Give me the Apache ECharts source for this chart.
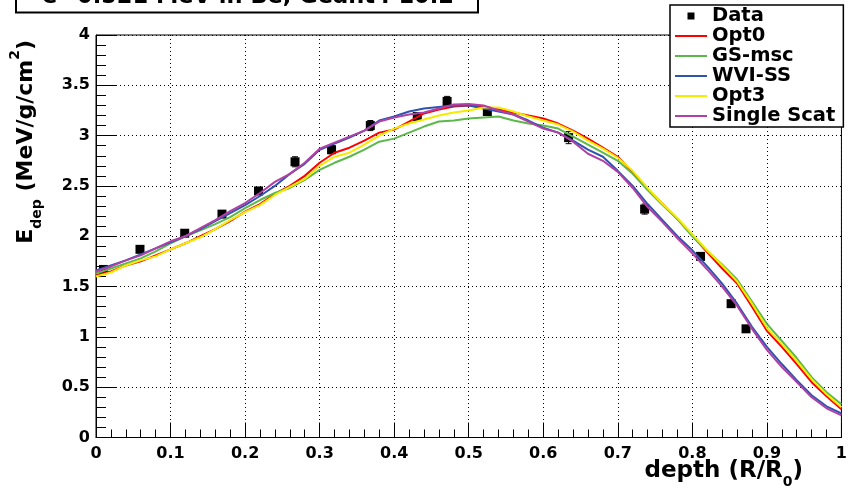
<!DOCTYPE html>
<html>
<head>
<meta charset="utf-8">
<script src="https://cdn.jsdelivr.net/npm/echarts@6.0.0/dist/echarts.min.js"></script>
<style>
  html, body { margin: 0; padding: 0; background: #fff; }
  #chart { width: 850px; height: 492px; }
</style>
</head>
<body>
<div id="chart"></div>
<script>
// ---------- data ----------
const titleText = 'e\u207B 0.521 MeV in Be, Geant4 10.2';
const xTickLabels = ['0', '0.1', '0.2', '0.3', '0.4', '0.5', '0.6', '0.7', '0.8', '0.9', '1'];
const yTickLabels = ['0', '0.5', '1', '1.5', '2', '2.5', '3', '3.5', '4'];

// measured data points
const dataX   = [0.010, 0.059, 0.119, 0.169, 0.218, 0.267, 0.316, 0.368, 0.431, 0.471, 0.525, 0.634, 0.736, 0.811, 0.852, 0.872];
const dataY   = [1.67, 1.87, 2.03, 2.22, 2.45, 2.74, 2.86, 3.10, 3.19, 3.34, 3.24, 2.98, 2.27, 1.80, 1.33, 1.08];
const dataErr = [0.03, 0.03, 0.03, 0.03, 0.03, 0.05, 0.04, 0.05, 0.03, 0.05, 0.04, 0.06, 0.05, 0.03, 0.02, 0.02];

// simulation curves, sampled at depth = 0, 0.02, ..., 1.00
const depth = [0.00,0.02,0.04,0.06,0.08,0.10,0.12,0.14,0.16,0.18,0.20,0.22,0.24,0.26,0.28,0.30,0.32,0.34,0.36,0.38,0.40,
               0.42,0.44,0.46,0.48,0.50,0.52,0.54,0.56,0.58,0.60,0.62,0.64,0.66,0.68,0.70,0.72,0.74,0.76,0.78,0.80,
               0.82,0.84,0.86,0.88,0.90,0.92,0.94,0.96,0.98,1.00];
const opt0 = [1.61,1.65,1.71,1.75,1.81,1.87,1.93,2.00,2.07,2.15,2.245,2.32,2.42,2.50,2.60,2.73,2.83,2.88,2.95,3.03,3.06,
              3.14,3.22,3.26,3.29,3.30,3.29,3.26,3.23,3.20,3.17,3.12,3.05,2.97,2.88,2.79,2.64,2.47,2.32,2.17,2.01,
              1.84,1.68,1.53,1.30,1.06,0.90,0.73,0.55,0.41,0.28];
const gsMsc = [1.63,1.68,1.73,1.78,1.85,1.93,2.00,2.06,2.12,2.19,2.28,2.36,2.43,2.48,2.56,2.66,2.73,2.79,2.86,2.94,2.97,
               3.03,3.09,3.14,3.15,3.17,3.18,3.19,3.15,3.12,3.10,3.07,2.99,2.91,2.83,2.75,2.62,2.46,2.31,2.17,2.00,
               1.85,1.72,1.57,1.35,1.13,0.96,0.79,0.60,0.45,0.33];
const wviSS = [1.66,1.71,1.76,1.82,1.88,1.94,2.00,2.07,2.15,2.23,2.31,2.40,2.50,2.62,2.72,2.86,2.92,2.98,3.05,3.15,3.19,
               3.24,3.27,3.285,3.30,3.30,3.27,3.24,3.21,3.15,3.08,3.03,2.95,2.86,2.79,2.65,2.50,2.32,2.16,2.00,1.86,
               1.70,1.53,1.33,1.10,0.90,0.73,0.57,0.42,0.31,0.24];
const opt3 = [1.60,1.64,1.71,1.76,1.80,1.87,1.93,1.99,2.07,2.16,2.24,2.31,2.41,2.49,2.57,2.70,2.79,2.83,2.91,3.00,3.07,
              3.12,3.16,3.20,3.23,3.25,3.28,3.28,3.24,3.19,3.15,3.11,3.04,2.95,2.87,2.78,2.65,2.48,2.32,2.18,2.02,
              1.86,1.71,1.55,1.33,1.09,0.93,0.76,0.58,0.43,0.30];
const singleScat = [1.65,1.70,1.76,1.81,1.88,1.95,2.00,2.08,2.16,2.25,2.33,2.43,2.54,2.62,2.73,2.87,2.93,2.99,3.05,3.14,3.18,
                    3.21,3.23,3.27,3.31,3.315,3.30,3.25,3.21,3.14,3.07,3.03,2.94,2.82,2.75,2.64,2.48,2.29,2.14,1.98,1.83,
                    1.67,1.50,1.31,1.08,0.87,0.70,0.55,0.40,0.29,0.22];

const seriesNames  = ['Opt0', 'GS-msc', 'WVI-SS', 'Opt3', 'Single Scat'];
const seriesValues = [opt0, gsMsc, wviSS, opt3, singleScat];
const seriesColors = ['#ff0000', '#5cb84a', '#2f54b0', '#f4ec00', '#b040a6'];

// ---------- chart ----------
const FONT = "'DejaVu Sans', 'Liberation Sans', sans-serif";
const chart = echarts.init(document.getElementById('chart'), null, { renderer: 'canvas' });

const pairs = (xs, ys) => xs.map((x, i) => [x, ys[i]]);

const lineSeries = seriesNames.map((name, k) => ({
  name: name,
  type: 'line',
  data: pairs(depth, seriesValues[k]),
  symbol: 'none',
  showSymbol: false,
  smooth: false,
  lineStyle: { color: seriesColors[k], width: 2 },
  itemStyle: { color: seriesColors[k] },
  z: 3 + k,
  animation: false
}));

const option = {
  animation: false,
  backgroundColor: '#fff',
  grid: { left: 96, right: 5, top: 35, bottom: 54.5, show: true, borderColor: '#000', borderWidth: 1, backgroundColor: 'transparent' },
  xAxis: {
    type: 'value', min: 0, max: 1, interval: 0.1,
    axisLine: { show: true, onZero: false, lineStyle: { color: '#000', width: 1 } },
    axisTick: { show: true, inside: true, length: 15, lineStyle: { color: '#000', width: 1 } },
    minorTick: { show: true, splitNumber: 5, length: 8, lineStyle: { color: '#000', width: 1 } },
    splitLine: { show: true, lineStyle: { color: '#000', width: 1, type: [1, 3] } },
    axisLabel: {
      color: '#000', fontFamily: FONT, fontWeight: 'bold', fontSize: 16, margin: 8,
      formatter: (v) => xTickLabels[Math.round(v * 10)]
    }
  },
  yAxis: {
    type: 'value', min: 0, max: 4, interval: 0.5,
    axisLine: { show: true, onZero: false, lineStyle: { color: '#000', width: 1 } },
    axisTick: { show: true, inside: true, length: 20, lineStyle: { color: '#000', width: 1 } },
    minorTick: { show: true, splitNumber: 5, length: 10, lineStyle: { color: '#000', width: 1 } },
    splitLine: { show: true, lineStyle: { color: '#000', width: 1, type: [1, 3] } },
    axisLabel: {
      color: '#000', fontFamily: FONT, fontWeight: 'bold', fontSize: 16, margin: 6,
      formatter: (v) => yTickLabels[Math.round(v * 2)]
    }
  },
  legend: {
    orient: 'vertical',
    left: 670, top: 5,
    padding: [1, 8, 1, 5],
    itemGap: 0,
    itemWidth: 32, itemHeight: 7,
    backgroundColor: '#fff',
    borderColor: '#000', borderWidth: 1.5,
    textStyle: { color: '#000', fontFamily: FONT, fontWeight: 'bold', fontSize: 19.5, lineHeight: 18.3 },
    data: [
      { name: 'Data', icon: 'path://M0,0h1v1h-1z' },
      ...seriesNames.map(n => ({ name: n, icon: 'path://M0,0h16v1h-16z' }))
    ],
    selectedMode: false,
    z: 20
  },
  series: [
    {
      name: 'Data',
      type: 'custom',
      coordinateSystem: 'cartesian2d',
      data: dataX.map((x, i) => [x, dataY[i], dataErr[i]]),
      itemStyle: { color: '#000' },
      renderItem: function (params, api) {
        const x = api.value(0), y = api.value(1), e = api.value(2);
        const p = api.coord([x, y]);
        const hi = api.coord([x, y + e]);
        const lo = api.coord([x, y - e]);
        return {
          type: 'group',
          children: [
            { type: 'line', shape: { x1: p[0], y1: hi[1], x2: p[0], y2: lo[1] }, style: { stroke: '#000', lineWidth: 1 } },
            { type: 'line', shape: { x1: p[0] - 3, y1: hi[1], x2: p[0] + 3, y2: hi[1] }, style: { stroke: '#000', lineWidth: 1 } },
            { type: 'line', shape: { x1: p[0] - 3, y1: lo[1], x2: p[0] + 3, y2: lo[1] }, style: { stroke: '#000', lineWidth: 1 } },
            { type: 'rect', shape: { x: p[0] - 4.5, y: p[1] - 4.5, width: 9, height: 9 }, style: { fill: '#000' } }
          ]
        };
      },
      z: 2,
      animation: false
    },
    ...lineSeries
  ],
  graphic: [
    // title box (cut by the top edge)
    { type: 'rect', shape: { x: 16, y: -14, width: 462, height: 26.5 }, style: { fill: '#fff', stroke: '#000', lineWidth: 2 }, z: 30 },
    { type: 'text', x: 42, y: 9, z: 31,
      style: { text: titleText, fill: '#000', font: "bold 22.5px " + FONT, textAlign: 'left', textVerticalAlign: 'bottom' } },
    // x axis title
    { type: 'text', x: 803, y: 471, z: 31,
      style: {
        text: '{m|depth (R/R}{s|0}{m|)}',
        textAlign: 'right', textVerticalAlign: 'middle',
        rich: {
          m: { fontFamily: FONT, fontWeight: 'bold', fontSize: 23, lineHeight: 36, verticalAlign: 'middle', fill: '#000' },
          s: { fontFamily: FONT, fontWeight: 'bold', fontSize: 14, lineHeight: 14, verticalAlign: 'bottom', fill: '#000' }
        }
      } },
    // y axis title
    { type: 'text', x: 26, y: 40, rotation: Math.PI / 2, z: 31,
      style: {
        text: '{m|E}{s|dep}{m| (MeV/g/cm}{u|2}{m|)}',
        textAlign: 'right', textVerticalAlign: 'middle',
        rich: {
          m: { fontFamily: FONT, fontWeight: 'bold', fontSize: 22, lineHeight: 36, verticalAlign: 'middle', fill: '#000' },
          s: { fontFamily: FONT, fontWeight: 'bold', fontSize: 14, lineHeight: 14, verticalAlign: 'bottom', fill: '#000' },
          u: { fontFamily: FONT, fontWeight: 'bold', fontSize: 14, lineHeight: 14, verticalAlign: 'top', fill: '#000' }
        }
      } }
  ]
};

chart.setOption(option);
</script>
</body>
</html>
